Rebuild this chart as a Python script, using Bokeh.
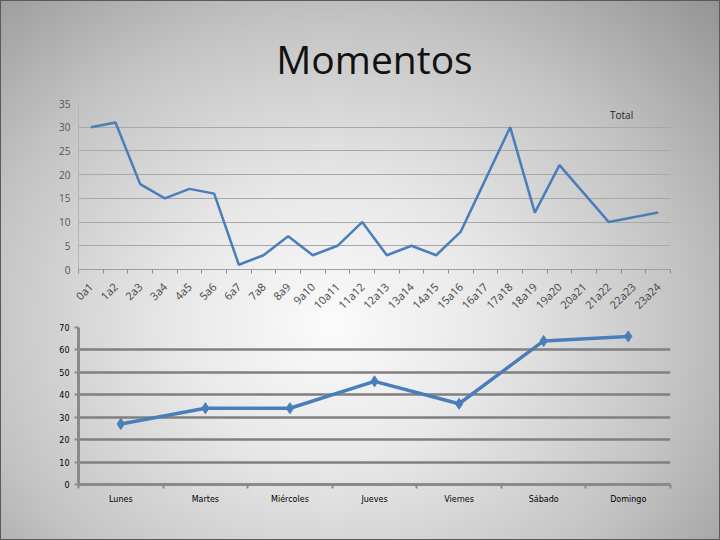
import math
from bokeh.plotting import figure
from bokeh.models import (Range1d, FactorRange, LinearAxis, CategoricalAxis, FixedTicker,
                          SingleIntervalTicker, Legend, LegendItem, Title, Grid)
from bokeh.layouts import column
from bokeh.embed import file_html
from bokeh.resources import INLINE

# ---------------- data ----------------
title_text = "Momentos"
series_name = "Total"
hours = ["0a1", "1a2", "2a3", "3a4", "4a5", "5a6", "6a7", "7a8", "8a9", "9a10", "10a11", "11a12",
         "12a13", "13a14", "14a15", "15a16", "16a17", "17a18", "18a19", "19a20", "20a21", "21a22",
         "22a23", "23a24"]
hour_totals = [30, 31, 18, 15, 17, 16, 1, 3, 7, 3, 5, 10, 3, 5, 3, 8, 19, 30, 12, 22, 16, 10, 11, 12]
days = ["Lunes", "Martes", "Miércoles", "Jueves", "Viernes", "Sábado", "Domingo"]
day_totals = [27, 34, 34, 46, 36, 64, 66]
hour_ymax, hour_step = 35, 5
day_ymax, day_step = 70, 10

LINE = "#4a7ebb"
W = 720


def strip(p):
    p.background_fill_alpha = 0
    p.border_fill_alpha = 0
    p.outline_line_color = None
    for g in p.grid:
        g.visible = False


# ---------------- top chart ----------------
p1 = figure(width=W, height=320, x_range=FactorRange(*hours), y_range=Range1d(0, hour_ymax),
            output_backend="svg", toolbar_location=None,
            x_axis_location=None, y_axis_location=None,
            min_border_left=78, min_border_right=50, min_border_top=103, min_border_bottom=51)
strip(p1)

p1.add_layout(Title(text=title_text, align="center", text_font="Open Sans", text_font_size="39px",
                    text_font_style="normal", text_color="#111111", standoff=38, offset=-14,
                    text_line_height=1.0), "above")

y1 = LinearAxis(ticker=SingleIntervalTicker(interval=hour_step),
                major_tick_out=0, major_tick_in=0, minor_tick_out=0, minor_tick_in=0,
                axis_line_color="#b4b4b4", major_label_standoff=8,
                major_label_text_font="Open Sans", major_label_text_font_size="10px",
                major_label_text_color="#555555")
p1.add_layout(y1, "left")
p1.add_layout(Grid(dimension=1, ticker=y1.ticker, grid_line_color="#a8a8a8", grid_line_width=1))

# tick marks on the category boundaries (synthetic coordinates of the factor range)
t1 = LinearAxis(ticker=FixedTicker(ticks=[], minor_ticks=list(range(len(hours) + 1))),
                major_tick_out=0, major_tick_in=0, minor_tick_out=4, minor_tick_in=0,
                minor_tick_line_color="#8c8c8c", axis_line_color="#a0a0a0", major_label_standoff=0)
p1.add_layout(t1, "below")
c1 = CategoricalAxis(major_label_orientation=math.pi / 4, major_tick_out=0, major_tick_in=0,
                     axis_line_color=None, major_label_standoff=11,
                     major_label_text_font="Open Sans", major_label_text_font_size="11px",
                     major_label_text_color="#444444")
p1.add_layout(c1, "below")

r1 = p1.line(hours, hour_totals, line_color=LINE, line_width=2.5)
leg = Legend(items=[LegendItem(label=series_name, renderers=[r1])], location=(532, 144),
             glyph_width=0, label_standoff=0, padding=0, spacing=0, margin=0,
             border_line_alpha=0, background_fill_alpha=0,
             label_text_font="Open Sans", label_text_font_size="10px", label_text_color="#222222")
p1.add_layout(leg, "center")

# ---------------- bottom chart ----------------
p2 = figure(width=W, height=220, x_range=FactorRange(*days), y_range=Range1d(0, day_ymax),
            output_backend="svg", toolbar_location=None,
            x_axis_location=None, y_axis_location=None,
            min_border_left=77, min_border_right=50, min_border_top=7, min_border_bottom=56)
strip(p2)

y2 = LinearAxis(ticker=SingleIntervalTicker(interval=day_step),
                major_tick_out=4, major_tick_in=0, minor_tick_out=0, minor_tick_in=0,
                major_tick_line_color="#8a8a8a", major_tick_line_width=2,
                axis_line_color="#8a8a8a", axis_line_width=3, major_label_standoff=5,
                major_label_text_font="DejaVu Sans", major_label_text_font_size="8px",
                major_label_text_color="#000000")
p2.add_layout(y2, "left")
p2.add_layout(Grid(dimension=1, ticker=y2.ticker, grid_line_color="#808080", grid_line_width=2.5))

t2 = LinearAxis(ticker=FixedTicker(ticks=[], minor_ticks=list(range(len(days) + 1))),
                major_tick_out=0, major_tick_in=0, minor_tick_out=4, minor_tick_in=0,
                minor_tick_line_color="#8a8a8a", minor_tick_line_width=2,
                axis_line_color="#8a8a8a", axis_line_width=3, major_label_standoff=0)
p2.add_layout(t2, "below")
c2 = CategoricalAxis(major_tick_out=0, major_tick_in=0, axis_line_color=None, major_label_standoff=6,
                     major_label_text_font="DejaVu Sans", major_label_text_font_size="8px",
                     major_label_text_color="#000000")
p2.add_layout(c2, "below")

p2.line(days, day_totals, line_color=LINE, line_width=3.5)
p2.scatter(days, day_totals, marker="diamond", size=11, fill_color=LINE, line_color=LINE)

layout = column(p1, p2, spacing=0, styles={
    "background": "radial-gradient(ellipse 78% 90% at 46% 60%, #fbfbfb 0%, #e8e8e8 28%, #c4c4c4 62%, #8e8e8e 100%)",
    "box-shadow": "inset 0 0 0 1px #5a5a5a",
})

open("out.html", "w").write(file_html(layout, INLINE))
